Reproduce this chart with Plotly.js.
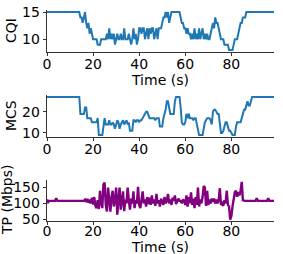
<!DOCTYPE html>
<html><head><meta charset="utf-8">
<script src="https://cdn.plot.ly/plotly-3.0.1.min.js"></script>
<style>html,body{margin:0;padding:0;background:#fff}#g{width:283px;height:254px}</style>
</head><body><div id="g"></div>
<script>
// samples every 0.5 s starting at t = 0
const cqi = [
15,15,15,15,15,15,15,15,15,15,15,15,15,15,15,15,15,15,15,15,15,15,15,15,15,15,15,15,15,
14,14,13,14,15,13,12,13,11,12,11,10,10,10,10,9,9,9,10,10,10,10,10,11,10,12,10,11,10,11,9,
10,11,10,10,11,10,10,12,10,10,10,11,10,9,10,12,10,11,9,10,12,12,11,12,12,10,11,12,10,12,
11,12,12,10,11,12,10,12,12,12,13,14,14,15,14,15,13,14,15,
15,15,15,15,15,15,15,
14,13,13,12,12,11,12,11,11,10,11,10,12,10,11,10,12,10,11,12,10,11,10,11,10,10,11,12,13,12,
14,13,13,12,11,10,10,10,9,9,9,9,8,8,8,8,9,10,10,10,11,12,13,13,14,14,14,15,
15,15,15,15,15,15,15,15,15,15,15,15,15,15,15,15,15,15,15,15,15,15,15,15
];
const mcs = [
27,27,27,27,27,27,27,27,27,27,27,27,27,27,27,27,27,27,27,27,27,27,27,27,27,27,27,27,27,
19,19,19,19,22,22,17,17,17,17,15,15,15,15,15,17,9,9,9,9,13,17,14,14,14,16,14,14,15,14,12,
14,16,15,12,14,15,16,14,15,16,14,15,11,11,11,16,16,15,16,16,15,16,16,17,18,19,20,20,18,17,
17,17,17,17,16,17,17,17,13,13,13,17,19,21,25,25,22,19,19,19,19,25,27,27,27,27,22,15,14,14,
15,19,17,19,17,17,17,16,17,17,14,11,9,9,9,9,12,15,16,17,17,17,16,14,20,21,21,20,19,19,
15,10,10,11,13,15,15,13,11,11,10,9,9,9,13,15,15,15,15,17,19,21,21,23,25,23,23,25,27,
27,27,27,27,27,27,27,27,27,27,27,27,27,27,27,27,27,27,27
];
const tp = [
112,104,108,108,108,108,108,108,116,108,108,108,108,108,108,108,108,108,108,108,108,108,108,108,108,108,108,108,108,108,108,108,108,
112,104,114,102,112,100,118,96,120,92,85,110,82,140,100,85,160,166,95,74,150,100,74,120,140,90,110,150,64,110,150,80,115,138,75,
112,100,150,110,80,115,100,138,85,110,100,152,95,85,115,138,100,112,90,120,98,118,95,125,100,112,92,130,100,110,90,115,
105,95,120,100,108,130,100,112,95,118,108,125,98,108,115,108,108,100,112,108,95,125,90,120,100,135,95,115,85,120,95,150,
90,112,100,120,155,150,92,140,95,112,100,115,105,115,100,112,100,110,148,95,100,92,110,100,140,95,90,48,60,90,110,135,
140,121,136,125,140,168,110,108,108,108,108,108,108,108,108,108,108,108,116,108,108,108,108,108,108,108,108,108,116,108,
108,108,108,108,108,108
];
const xTicks = [0, 20, 40, 60, 80];
const xLabel = 'Time (s)';
const yLabels = ['CQI', 'MCS', 'TP (Mbps)'];

const F = 'DejaVu Sans, sans-serif';
const font = {family: F, size: 14, color: '#000'};
function xa(anchor, so) {
  return {anchor: anchor, domain: [0, 1], range: [0, 98.5], tickvals: xTicks,
    showline: true, linecolor: '#000', linewidth: 0.8, ticks: 'outside', ticklen: 3.5, tickwidth: 0.8,
    tickcolor: '#000', showgrid: false, zeroline: false, tickfont: font, mirror: false, ticklabelstandoff: so};
}
function ya(anchor, dom, range, ticks) {
  return {anchor: anchor, domain: dom, range: range, tickvals: ticks,
    showline: true, linecolor: '#000', linewidth: 0.8, ticks: 'outside', ticklen: 3.5, tickwidth: 0.8,
    tickcolor: '#000', showgrid: false, zeroline: false, tickfont: font};
}
function ann(text, xpx, ypx, angle) {
  return {text: text, xref: 'paper', yref: 'paper', x: (xpx - 47) / 227, y: 1 - ypx / 254,
    xanchor: 'center', yanchor: 'middle', showarrow: false, textangle: angle, font: font};
}
const data = [
  {y: cqi, x0: 0, dx: 0.5, xaxis: 'x', yaxis: 'y', mode: 'lines', line: {color: '#1f77b4', width: 2}},
  {y: mcs, x0: 0, dx: 0.5, xaxis: 'x2', yaxis: 'y2', mode: 'lines', line: {color: '#1f77b4', width: 2}},
  {y: tp, x0: 0, dx: 0.5, xaxis: 'x3', yaxis: 'y3', mode: 'lines', line: {color: '#800080', width: 2.4}}
];
const layout = {
  width: 283, height: 254, showlegend: false,
  margin: {l: 47, r: 9, t: 0, b: 0},
  paper_bgcolor: '#fff', plot_bgcolor: '#fff', font: font,
  xaxis: xa('y', -4),
  xaxis2: xa('y2', -4),
  xaxis3: xa('y3', -6),
  yaxis: ya('x', [0.7953, 0.9602], [7.65, 15.35], [10, 15]),
  yaxis2: ya('x2', [0.4606, 0.6260], [8.1, 27.9], [10, 20]),
  yaxis3: ya('x3', [0.1311, 0.2913], [45, 174], [50, 100, 150]),
  annotations: [
    ann(xLabel, 160, 80, 0),
    ann(xLabel, 160, 246.5, 0),
    ann(yLabels[0], 11, 31, -90),
    ann(yLabels[1], 11, 116, -90),
    ann(yLabels[2], 7, 200, -90)
  ]
};
Plotly.newPlot('g', data, layout, {staticPlot: true, displayModeBar: false});
</script></body></html>
